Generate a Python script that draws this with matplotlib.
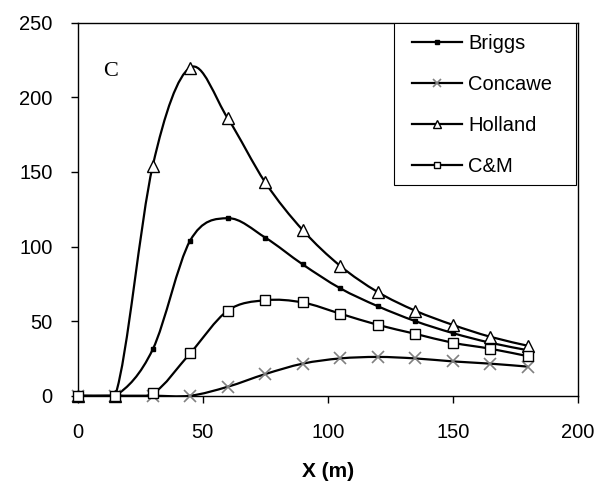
import numpy as np
import matplotlib
matplotlib.use("Agg")
import matplotlib.pyplot as plt
from matplotlib.path import Path
from matplotlib.patches import PathPatch, Rectangle

plt.rcParams["font.family"] = ["Liberation Sans", "DejaVu Sans"]

# distance along the axis (m)
x_m = [0, 15, 30, 45, 60, 75, 90, 105, 120, 135, 150, 165, 180]

briggs = [0, 0, 31, 104, 119, 106, 88, 72, 60, 50, 42, 35.5, 30.5]
concawe = [0, 0, 0, 0, 6, 14.5, 21.5, 25, 26, 25, 23, 21.5, 19.5]
holland = [0, 0, 154, 220, 186, 143, 111, 87, 69.5, 57, 47.5, 39.5, 33.5]
cm = [0, 0, 1.5, 28.5, 57, 64, 62.5, 55, 47.5, 41.5, 35.5, 31.5, 26.5]


def smooth_path(xs, ys):
    # Excel-style smoothed line: Catmull-Rom turned into cubic Beziers
    p = np.column_stack([xs, ys]).astype(float)
    n = len(p)
    verts = [p[0]]
    codes = [Path.MOVETO]
    for i in range(n - 1):
        prev = p[max(i - 1, 0)]
        nxt = p[min(i + 2, n - 1)]
        c1 = p[i] + (p[i + 1] - prev) / 6.0
        c2 = p[i + 1] - (nxt - p[i]) / 6.0
        verts += [c1, c2, p[i + 1]]
        codes += [Path.CURVE4] * 3
    return Path(verts, codes)


fig = plt.figure(figsize=(6.05, 4.84), dpi=100)
ax = fig.add_axes([0.1284, 0.1824, 0.8266, 0.7706])

series = [
    ("Briggs", briggs, dict(marker="s", ms=3.5, mfc="black", mec="black")),
    ("Concawe", concawe, dict(marker="x", ms=8, mec="#808080", mew=1.2)),
    ("Holland", holland, dict(marker="^", ms=8, mfc="white", mec="black", mew=1.0)),
    ("C&M", cm, dict(marker="s", ms=7.5, mfc="white", mec="black", mew=1.0)),
]

for name, ys, mstyle in series:
    patch = PathPatch(smooth_path(x_m, ys), fill=False, lw=1.6,
                      edgecolor="black", zorder=2)
    ax.add_patch(patch)
    ax.plot(x_m, ys, ls="none", zorder=3, clip_on=False, **mstyle)
    # legend proxy
    ax.plot([], [], color="black", lw=1.6, label=name, **mstyle)

ax.set_xlim(0, 200)
ax.set_ylim(0, 250)
ax.set_xticks([0, 50, 100, 150, 200])
ax.set_yticks([0, 50, 100, 150, 200, 250])
ax.tick_params(axis="both", direction="out", length=5, width=1.0,
               labelsize=14.5)
ax.tick_params(axis="y", pad=13)
ax.tick_params(axis="x", pad=15)
for sp in ax.spines.values():
    sp.set_linewidth(1.0)

ax.set_xlabel("X (m)", fontsize=15, fontweight="bold", labelpad=14)

ax.text(13, 217, "C", fontsize=16, family="Liberation Serif",
        ha="center", va="center")

# legend frame drawn separately so padding can differ per side
ax.add_patch(Rectangle((0.6326, 0.5649), 0.364, 0.4351, transform=ax.transAxes,
                       fill=True, facecolor="white", edgecolor="black",
                       lw=0.8, zorder=4))
leg = ax.legend(loc="upper left", bbox_to_anchor=(0.668, 0.970),
                borderaxespad=0, borderpad=0, fontsize=14.5, frameon=False,
                handlelength=2.5, handletextpad=0.3, labelspacing=1.1,
                markerscale=0.65)
leg.set_zorder(5)

fig.savefig("out.png", dpi=100, facecolor="white")
